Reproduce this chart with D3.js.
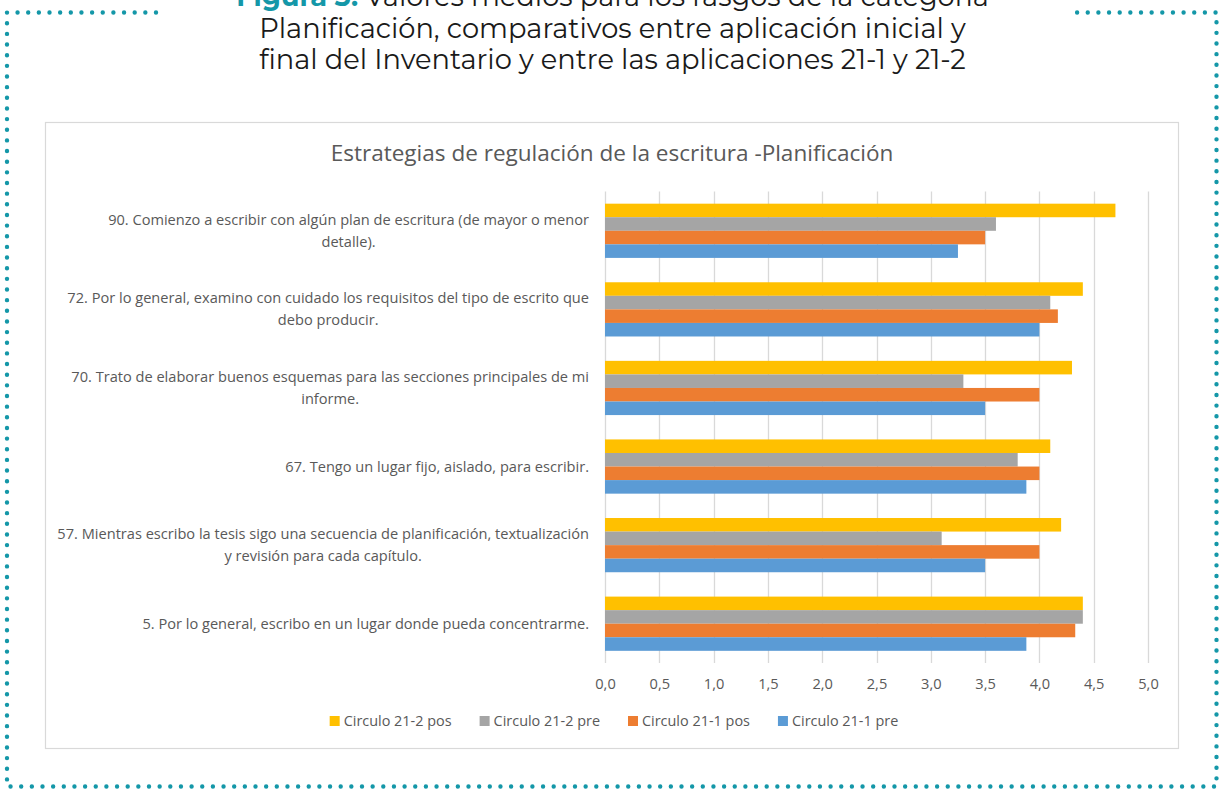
<!DOCTYPE html>
<html>
<head>
<meta charset="utf-8">
<title>Estrategias de regulación de la escritura - Planificación</title>
<script src="https://cdn.jsdelivr.net/npm/d3@7"></script>
<style>
  html, body { margin: 0; padding: 0; background: #ffffff; }
  svg { display: block; }
</style>
</head>
<body>
<script>

// Categories, top to bottom as they appear in the chart
var categories = [
  "90. Comienzo a escribir con algún plan de escritura (de mayor o menor\ndetalle).",
  "72. Por lo general, examino con cuidado los requisitos del tipo de escrito que\ndebo producir.",
  "70. Trato de elaborar buenos esquemas para las secciones principales de mi\ninforme.",
  "67. Tengo un lugar fijo, aislado, para escribir.",
  "57. Mientras escribo la tesis sigo una secuencia de planificación, textualización\ny revisión para cada capítulo.",
  "5. Por lo general, escribo en un lugar donde pueda concentrarme."
];

// Series names (legend order)
var seriesNames = ["Circulo 21-2 pos", "Circulo 21-2 pre", "Circulo 21-1 pos", "Circulo 21-1 pre"];

// Values per series, same order as categories
var circulo212pos = [4.70, 4.40, 4.30, 4.10, 4.20, 4.40];
var circulo212pre = [3.60, 4.10, 3.30, 3.80, 3.10, 4.40];
var circulo211pos = [3.50, 4.17, 4.00, 4.00, 4.00, 4.33];
var circulo211pre = [3.25, 4.00, 3.50, 3.88, 3.50, 3.88];

// Tick values of the value axis
var xTicks = [0, 0.5, 1, 1.5, 2, 2.5, 3, 3.5, 4, 4.5, 5];

// Figure caption lines
var captionLines = [
  ["Figura 3.", " Valores medios para los rasgos de la categoría"],
  ["", "Planificación, comparativos entre aplicación inicial y"],
  ["", "final del Inventario y entre las aplicaciones 21-1 y 21-2"]
];
var chartTitle = "Estrategias de regulación de la escritura -Planificación";

var colors = ["#FFC000", "#A5A5A5", "#ED7D31", "#5B9BD5"];
var seriesValues = [circulo212pos, circulo212pre, circulo211pos, circulo211pre];

var data = categories.map(function(c, i) {
  return {
    category: c,
    values: seriesNames.map(function(s, j) { return {series: s, value: seriesValues[j][i]}; })
  };
});

draw();

// font size that makes a text node as wide as the picture shows it
function fitSize(node, size, target) {
  return size * target / node.getComputedTextLength();
}

function draw() {
  var w = 1225;
  var h = 789;
  var teal = "#1497a8";
  var textGrey = "#595959";
  var font = "'Open Sans', sans-serif";

  var svg = d3.select("body")
    .append("svg")
    .attr("width", w)
    .attr("height", h);

  // Dotted frame, open at the top behind the caption
  svg.append("path")
    .attr("d", "M156,12.5 H7 V786.5 H1216.5 V12.5 H1068.5")
    .attr("fill", "none")
    .attr("stroke", teal)
    .attr("stroke-width", 4.4)
    .attr("stroke-linecap", "round")
    .attr("stroke-dasharray", "0 10.65");

  // Caption
  var caption = svg.append("g")
    .attr("font-family", "Montserrat, 'Open Sans', sans-serif")
    .attr("text-anchor", "middle");

  captionLines.forEach(function(line, i) {
    var t = caption.append("text")
      .attr("x", 612.5)
      .attr("y", 6 + i * 31.5)
      .attr("font-size", 24)
      .attr("fill", "#1a1a1a");
    if (line[0]) {
      t.append("tspan").attr("fill", teal).attr("font-weight", "bold").text(line[0]);
    }
    t.append("tspan").text(line[1]);
  });

  var ref = caption.selectAll("text").nodes()[1];
  caption.selectAll("text").attr("font-size", fitSize(ref, 24, 707));

  // Chart box
  svg.append("rect")
    .attr("x", 45.5)
    .attr("y", 122.5)
    .attr("width", 1133)
    .attr("height", 626)
    .attr("fill", "#ffffff")
    .attr("stroke", "#d9d9d9")
    .attr("stroke-width", 1.2);

  var title = svg.append("text")
    .attr("x", 612)
    .attr("y", 161)
    .attr("text-anchor", "middle")
    .attr("font-family", font)
    .attr("font-size", 18)
    .attr("fill", textGrey)
    .text(chartTitle);
  title.attr("font-size", fitSize(title.node(), 18, 563));

  // Plot area
  var margin = {top: 191.5, left: 605, right: 1148, bottom: 663};
  var graphWidth = margin.right - margin.left;
  var graphHeight = margin.bottom - margin.top;

  var graph = svg.append("g")
    .attr("transform", `translate(${margin.left}, ${margin.top})`);

  var xScale = d3.scaleLinear()
    .domain([0, 5])
    .range([0, graphWidth]);

  var yScale = d3.scaleBand()
    .domain(categories)
    .range([0, graphHeight])
    .paddingInner(0.31)
    .paddingOuter(0.155);

  var yInner = d3.scaleBand()
    .domain(seriesNames)
    .range([0, yScale.bandwidth()]);

  var locale = d3.formatLocale({decimal: ",", thousands: ".", grouping: [3], currency: ["", "€"]});
  var fmt = locale.format(".1f");

  // Gridlines
  graph.append("g")
    .selectAll("line")
    .data(xTicks)
    .join("line")
    .attr("x1", d => Math.round(xScale(d)) + 0.5)
    .attr("x2", d => Math.round(xScale(d)) + 0.5)
    .attr("y1", 0)
    .attr("y2", graphHeight)
    .attr("stroke", "#d9d9d9")
    .attr("stroke-width", 1.3);

  // Bars
  var groups = graph.selectAll(".group")
    .data(data)
    .join("g")
    .attr("class", "group")
    .attr("transform", d => `translate(0, ${yScale(d.category)})`);

  groups.selectAll("rect")
    .data(d => d.values)
    .join("rect")
    .attr("x", xScale(0))
    .attr("y", d => yInner(d.series))
    .attr("width", d => xScale(d.value) - xScale(0))
    .attr("height", yInner.bandwidth())
    .attr("fill", (d, i) => colors[i]);

  // Value axis
  var xAxis = graph.append("g")
    .attr("transform", `translate(0, ${graphHeight})`)
    .call(d3.axisBottom(xScale).tickValues(xTicks).tickFormat(fmt).tickSize(0).tickPadding(16));

  xAxis.select(".domain").remove();
  var tickText = xAxis.selectAll("text")
    .attr("font-family", font)
    .attr("font-size", 13)
    .attr("fill", textGrey);
  tickText.attr("font-size", fitSize(tickText.node(), 13, 20.5));

  // Category labels, each block right aligned to the plot and lines centred in it
  var labelRight = margin.left - 16;
  var labels = svg.append("g")
    .attr("font-family", font)
    .attr("font-size", 13)
    .attr("fill", textGrey)
    .attr("text-anchor", "middle");

  var probe = labels.append("text").text(categories[4].split("\n")[0]);
  var labelSize = fitSize(probe.node(), 13, 532);
  probe.remove();
  labels.attr("font-size", labelSize);

  data.forEach(function(d) {
    var lines = d.category.split("\n");
    var cy = margin.top + yScale(d.category) + yScale.bandwidth() / 2;
    var lineH = 22;
    var t = labels.append("text");
    var spans = lines.map(function(line, i) {
      return t.append("tspan")
        .attr("y", cy + (i - (lines.length - 1) / 2) * lineH + 5)
        .text(line);
    });
    var maxW = d3.max(spans, s => s.node().getComputedTextLength());
    spans.forEach(s => s.attr("x", labelRight - maxW / 2));
  });

  // Legend
  var legend = svg.append("g")
    .attr("font-family", font)
    .attr("font-size", 13)
    .attr("fill", textGrey);

  var probe2 = legend.append("text").text(seriesNames[0]);
  legend.attr("font-size", fitSize(probe2.node(), 13, 108));
  probe2.remove();

  var items = seriesNames.map(function(s, i) {
    var g = legend.append("g");
    g.append("rect")
      .attr("width", 10)
      .attr("height", 10)
      .attr("y", -5)
      .attr("fill", colors[i]);
    var txt = g.append("text")
      .attr("x", 14)
      .attr("y", 5)
      .text(s);
    return {g: g, width: 14 + txt.node().getComputedTextLength()};
  });

  var gap = 28;
  var total = d3.sum(items, d => d.width) + gap * (items.length - 1);
  var xPos = 614 - total / 2;
  items.forEach(function(it) {
    it.g.attr("transform", `translate(${xPos}, 721)`);
    xPos += it.width + gap;
  });
}

</script>
</body>
</html>
